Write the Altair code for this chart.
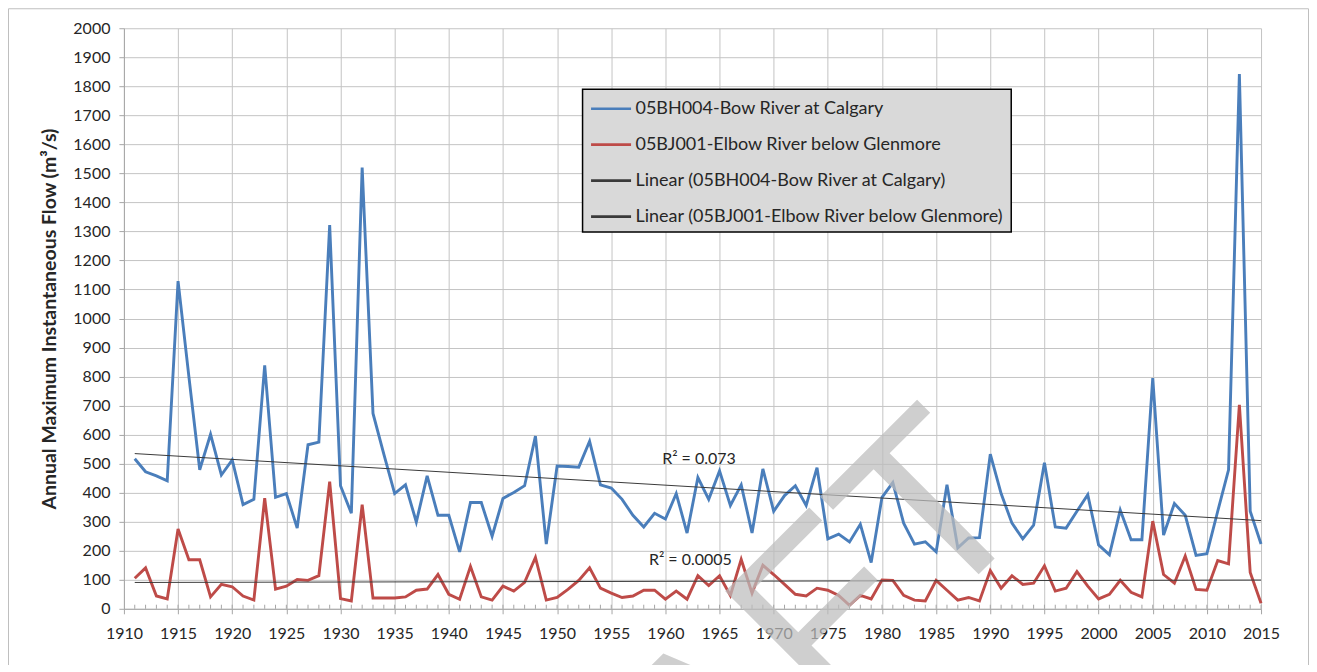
import altair as alt
import pandas as pd

# ---- data -------------------------------------------------------------
years = list(range(1911, 2016))

bow = [517, 472, 458, 441, 1129, 800, 479, 601, 461, 513,
       359, 377, 839, 384, 397, 278, 565, 574, 1322, 424,
       329, 1520, 673, 533, 397, 427, 299, 458, 322, 322,
       196, 366, 366, 250, 380, 401, 424, 595, 223, 492,
       490, 488, 577, 427, 416, 377, 322, 282, 329, 309,
       397, 261, 452, 377, 475, 356, 427, 261, 482, 336,
       390, 424, 356, 486, 241, 257, 230, 291, 159, 384,
       435, 295, 223, 231, 196, 427, 210, 244, 245, 533,
       397, 295, 241, 288, 503, 282, 278, 336, 393, 220,
       186, 340, 238, 238, 795, 254, 363, 322, 184, 190,
       336, 479, 1842, 336, 223]

elbow = [105, 141, 44, 34, 275, 169, 169, 41, 84, 76,
         44, 30, 381, 68, 78, 101, 98, 114, 438, 35,
         27, 359, 37, 37, 37, 41, 64, 68, 118, 50,
         33, 146, 41, 30, 78, 61, 91, 177, 30, 39,
         67, 98, 141, 71, 54, 39, 44, 64, 64, 33,
         61, 33, 114, 80, 114, 46, 170, 54, 150, 118,
         84, 50, 44, 71, 64, 46, 12, 46, 34, 99,
         98, 46, 30, 27, 98, 64, 30, 39, 27, 132,
         71, 114, 84, 88, 148, 61, 71, 128, 78, 34,
         50, 98, 57, 41, 302, 118, 88, 182, 67, 64,
         166, 155, 703, 125, 19]

BOW = "05BH004-Bow River at Calgary"
ELB = "05BJ001-Elbow River below Glenmore"
series_names = [BOW, ELB, "Linear (" + BOW + ")", "Linear (" + ELB + ")"]
series_colors = ["#4a7ebb", "#be4b48", "#3a3a3a", "#3a3a3a"]

r2_text = ["R\u00b2 = 0.073", "R\u00b2 = 0.0005"]
r2_year = [1963.1, 1962.3]
r2_flow = [516, 169]

x_ticks = list(range(1910, 2016, 5))
y_ticks = list(range(0, 2001, 100))

# ---- tables -----------------------------------------------------------
df = pd.DataFrame({
    "year": years + years,
    "flow": bow + elbow,
    "series": [BOW] * len(years) + [ELB] * len(years),
})
minor = pd.DataFrame({"year": years})
r2 = pd.DataFrame({"year": r2_year, "flow": r2_flow, "label": r2_text})

FONT = "Lato"
TXT = "#262626"

xscale = alt.Scale(domain=[1910, 2015], nice=False, zero=False)
yscale = alt.Scale(domain=[0, 2000], nice=False)
cscale = alt.Scale(domain=series_names, range=series_colors)

xaxis = alt.Axis(values=x_ticks, format="d", title=None, grid=True, orient="bottom",
                 gridColor="#c4c4c4", domainColor="#a6a6a6", tickColor="#a6a6a6",
                 tickSize=5, labelFont=FONT, labelFontSize=16, labelColor=TXT,
                 labelPadding=12, labelFlush=False, labelOverlap=False)
yaxis = alt.Axis(values=y_ticks, format="d", orient="left",
                 title="Annual Maximum Instantaneous Flow (m\u00b3/s)",
                 grid=True, gridColor="#c4c4c4", domainColor="#a6a6a6",
                 tickColor="#a6a6a6", tickSize=5, labelFont=FONT, labelFontSize=16,
                 labelColor=TXT, labelPadding=9, labelFlush=False, labelOverlap=False,
                 titleFont=FONT, titleFontSize=19.5,
                 titleFontWeight="bold", titleColor=TXT, titlePadding=13)

legend = alt.Legend(
    title=None, orient="none", legendX=459, legendY=61,
    fillColor="#d9d9d9", strokeColor="#000000", padding=6,
    symbolType="M-0.917,0H2.42", symbolSize=576, symbolStrokeWidth=2.6,
    labelFont=FONT, labelFontSize=18, labelColor=TXT, labelLimit=600,
    labelOffset=20, rowPadding=13,
)

X = alt.X("year:Q", scale=xscale, axis=xaxis)
Y = alt.Y("flow:Q", scale=yscale, axis=yaxis)

base = alt.Chart(df)

lines = base.mark_line(strokeWidth=2.9, strokeJoin="miter").encode(
    x=X, y=Y,
    color=alt.Color("series:N", scale=cscale, legend=legend),
)

trends = base.transform_regression(
    "year", "flow", groupby=["series"], extent=[1911, 2015]
).transform_calculate(
    name="'Linear (' + datum.series + ')'"
).mark_line(strokeWidth=1).encode(
    x=X, y=Y,
    color=alt.Color("name:N", scale=cscale, legend=legend),
    detail="series:N",
)

minor_ticks = alt.Chart(minor).mark_rule(color="#a6a6a6", strokeWidth=1).encode(
    x=X,
    y=alt.datum(0, scale=yscale, axis=yaxis),
    y2=alt.datum(14),
)

r2_labels = alt.Chart(r2).mark_text(font=FONT, fontSize=16, color=TXT).encode(
    x=X, y=Y,
    text="label:N",
)

watermark = alt.Chart(pd.DataFrame({"t": ["DRAFT"]})).mark_text(
    font="Liberation Sans", fontSize=243, angle=315, align="right",
    baseline="alphabetic", color="#bdbdbd", opacity=0.72,
).encode(
    x=alt.datum(1994.5, scale=xscale, axis=xaxis),
    y=alt.datum(327, scale=yscale, axis=yaxis),
    text="t:N",
)

frame = alt.Chart(pd.DataFrame({"a": [0]})).mark_rect(
    fill=None, stroke="#bfbfbf", strokeWidth=1
).encode(
    x=alt.value(-115.5), x2=alt.value(1185.5),
    y=alt.value(-19.5), y2=alt.value(700),
)

chart = alt.layer(
    lines, trends, minor_ticks, r2_labels, watermark, frame
).properties(
    width=1138, height=581,
    autosize=alt.AutoSizeParams(type="none"),
    padding={"left": 116, "top": 20, "right": 48, "bottom": 56},
).configure_view(
    stroke=None
).configure_legend(
    strokeWidth=1.5
)

chart.save("out.html", embed_options={"renderer": "svg", "actions": False})
